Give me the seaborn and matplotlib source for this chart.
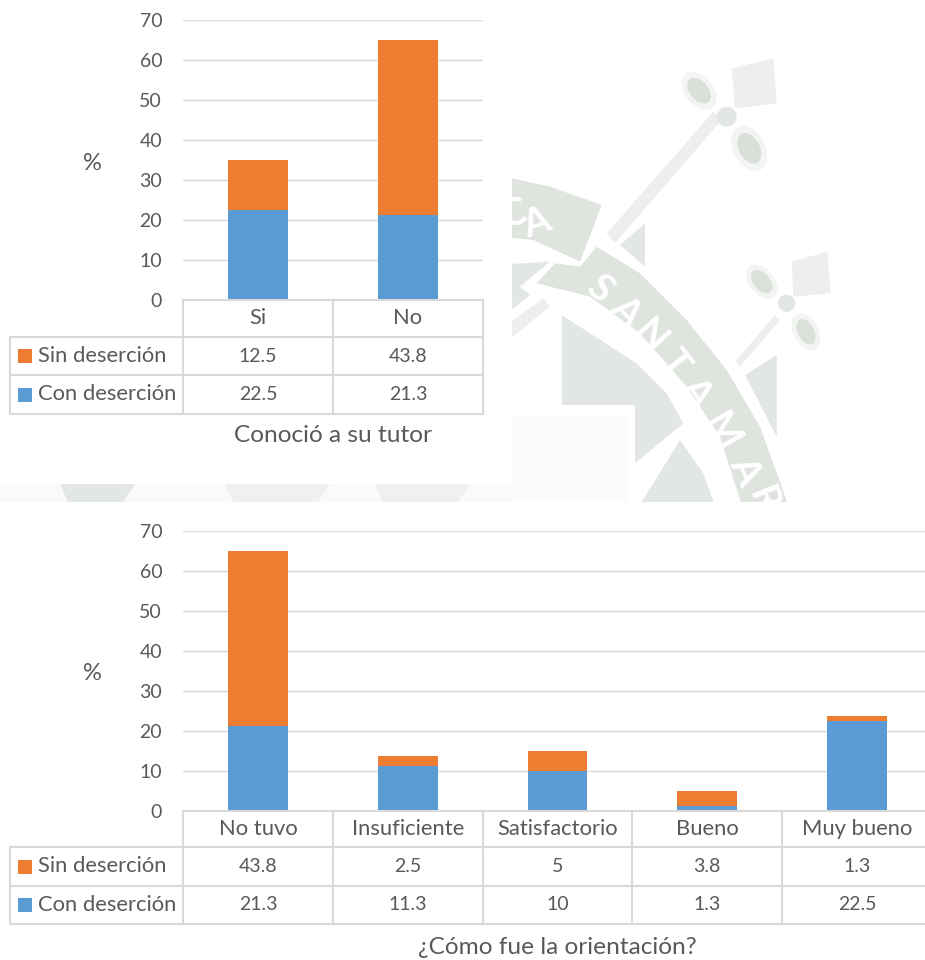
import matplotlib
matplotlib.use("Agg")
import matplotlib.pyplot as plt
import numpy as np
import seaborn as sns
from matplotlib.patches import Polygon, Rectangle, Ellipse, Circle

# ---------- data ----------
cats_top = ["Si", "No"]
sin_top = [12.5, 43.8]
con_top = [22.5, 21.3]
cats_bot = ["No tuvo", "Insuficiente", "Satisfactorio", "Bueno", "Muy bueno"]
sin_bot = [43.8, 2.5, 5, 3.8, 1.3]
con_bot = [21.3, 11.3, 10, 1.3, 22.5]
title_top = "Conoció a su tutor"
title_bot = "¿Cómo fue la orientación?"
series = ["Sin deserción", "Con deserción"]
yticks = [0, 10, 20, 30, 40, 50, 60, 70]

W, H = 925, 960
ORANGE, BLUE = "#ED7D31", "#5B9BD5"
TXT, GRID = "#595959", "#D9D9D9"
FS_LABEL, FS_NUM, FS_TITLE, FS_PCT = 15.8, 14.0, 17.6, 17.0

sns.set_theme(style="white")
plt.rcParams["font.family"] = ["Lato", "DejaVu Sans"]

fig = plt.figure(figsize=(W / 100, H / 100), dpi=100, facecolor="white")

# ---------- pixel-coordinate layers ----------
bg = fig.add_axes([0, 0, 1, 1], zorder=0)
bg.set_xlim(0, W); bg.set_ylim(H, 0); bg.axis("off")
fg = fig.add_axes([0, 0, 1, 1], zorder=5)
fg.set_xlim(0, W); fg.set_ylim(H, 0); fg.axis("off")
fg.patch.set_alpha(0)

# ---------- watermark ----------
def z(pts):
    return [(500 + x / 3, y / 3) for x, y in pts]

DARK, MID, LIGHT, PALE = "#DFE4DF", "#E3E7E3", "#ECEFEC", "#FAFBFA"
shapes = [
    ([(-100, 1245), (385, 1245), (385, 1530), (-100, 1530)], PALE),
    ([(-700, 535), (36, 535), (150, 560), (305, 615), (240, 785), (100, 720), (-700, 640)], DARK),
    ([(290, 740), (420, 820), (560, 960), (680, 1110), (780, 1280), (870, 1530), (730, 1530),
      (660, 1310), (560, 1160), (420, 1000), (270, 890), (110, 850), (165, 790), (240, 800)], DARK),
    ([(185, 945), (410, 1090), (500, 1180), (550, 1270), (405, 1390), (405, 1215), (185, 1215)], MID),
    ([(360, 735), (435, 670), (435, 800)], MID),
    ([(-100, 800), (150, 785), (60, 860), (90, 885), (-100, 1040)], MID),
    ([(-100, 1120), (150, 920), (130, 895), (-100, 1060)], LIGHT),
    ([(410, 1530), (540, 1320), (610, 1420), (650, 1530)], MID),
    ([(735, 1125), (830, 1065), (830, 1310)], MID),
    ([(320, 700), (640, 335), (665, 360), (345, 730)], LIGHT),
    ([(705, 1085), (825, 945), (840, 960), (720, 1100)], LIGHT),
    ([(695, 205), (820, 175), (830, 310), (705, 325)], LIGHT),
    ([(875, 785), (982, 755), (992, 880), (880, 890)], LIGHT),
]
for pts, col in shapes:
    bg.add_patch(Polygon(z(pts), closed=True, fc=col, ec="none"))
for (cx, cy, w, h, ang, c1, c2) in [
    (597, 272, 130, 85, 50, "#F3F5F3", "#DADFDA"),
    (748, 445, 145, 95, 62, "#F3F5F3", "#DADFDA"),
    (785, 845, 120, 75, 50, "#F3F5F3", "#DBE0DB"),
    (918, 995, 120, 75, 62, "#F3F5F3", "#DBE0DB"),
]:
    bg.add_patch(Ellipse((500 + cx / 3, cy / 3), w / 3, h / 3, angle=ang, fc=c1, ec="none"))
    bg.add_patch(Ellipse((500 + cx / 3, cy / 3), w / 4.4, h / 4.6, angle=ang, fc=c2, ec="none"))
for (cx, cy, r) in [(680, 350, 30), (860, 910, 26)]:
    bg.add_patch(Circle((500 + cx / 3, cy / 3), r / 3, fc=MID, ec="none"))

for ch, x, y, rot in [("S", 300, 865, -42), ("A", 378, 935, -45), ("N", 450, 1010, -48),
                      ("T", 525, 1090, -52), ("A", 590, 1175, -55), ("M", 665, 1295, -60),
                      ("A", 735, 1410, -65), ("R", 790, 1500, -68),
                      ("A", 110, 670, 18), ("C", 40, 640, 14)]:
    bg.text(500 + x / 3, y / 3, ch, color="white", fontsize=28, fontweight="bold",
            rotation=rot, ha="center", va="center", rotation_mode="anchor")

# fragments in the strip between the two charts
bg.add_patch(Rectangle((0, 484), 512, 18, fc="#F9FAF9", ec="none"))
for x0, x1, col in [(60, 135, "#E3E7E3"), (225, 330, "#EEF1EE"), (375, 470, "#EEF1EE")]:
    bg.add_patch(Polygon([(x0, 484), (x1, 484), (x1 - 12, 502), (x0 + 8, 502)], fc=col, ec="none"))

# white panels behind the charts
bg.add_patch(Rectangle((0, 0), 512, 484, fc="white", ec="none", zorder=3))
bg.add_patch(Rectangle((0, 502), W, H - 502, fc="white", ec="none", zorder=3))


def panel(cats, sin, con, title, left, right, base, title_y, rows):
    ax = fig.add_axes([left / W, 1 - base / H, (right - left) / W, 280 / H], zorder=2)
    ax.patch.set_alpha(0)
    sns.barplot(x=cats, y=con, color=BLUE, saturation=1, width=0.4, linewidth=0, ax=ax, zorder=3)
    sns.barplot(x=cats, y=sin, bottom=con, color=ORANGE, saturation=1, width=0.4, linewidth=0,
                ax=ax, zorder=3)
    ax.set_xlim(-0.5, len(cats) - 0.5)
    ax.set_ylim(0, 70)
    ax.set_yticks(yticks)
    ax.set_yticklabels([str(t) for t in yticks], fontsize=FS_NUM, color=TXT)
    ax.tick_params(axis="y", length=0, pad=15)
    ax.set_xticks([])
    ax.set_xlabel(""); ax.set_ylabel("")
    ax.yaxis.grid(True, color=GRID, lw=1.0, zorder=0)
    ax.set_axisbelow(True)
    sns.despine(ax=ax, left=True, bottom=True)

    fg.text(92, base - 137, "%", fontsize=FS_PCT, color=TXT, ha="center", va="center")

    # data table below the axis
    y0, y1, y2, y3 = rows
    n = len(cats)
    step = (right - left) / n
    lk = dict(color=GRID, lw=1.5, solid_capstyle="projecting")
    for i in range(n + 1):
        x = left + i * step
        fg.plot([x, x], [y0, y3], **lk)
    fg.plot([left, right], [y0, y0], **lk)
    fg.plot([10, right], [y1, y1], **lk)
    fg.plot([10, right], [y2, y2], **lk)
    fg.plot([10, right], [y3, y3], **lk)
    fg.plot([10, 10], [y1, y3], **lk)
    for i, c in enumerate(cats):
        xc = left + (i + 0.5) * step
        fg.text(xc, (y0 + y1) / 2, c, fontsize=FS_LABEL, color=TXT, ha="center", va="center")
        fg.text(xc, (y1 + y2) / 2, f"{sin[i]:g}", fontsize=FS_NUM, color=TXT, ha="center", va="center")
        fg.text(xc, (y2 + y3) / 2, f"{con[i]:g}", fontsize=FS_NUM, color=TXT, ha="center", va="center")
    for label, col, ya, yb in [(series[0], ORANGE, y1, y2), (series[1], BLUE, y2, y3)]:
        ym = (ya + yb) / 2
        fg.add_patch(Rectangle((18, ym - 7), 14, 14, fc=col, ec="none"))
        fg.text(38, ym, label, fontsize=FS_LABEL, color=TXT, ha="left", va="center")
    fg.text((left + right) / 2, title_y, title, fontsize=FS_TITLE, color=TXT, ha="center", va="center")
    return ax


panel(cats_top, sin_top, con_top, title_top, 183, 483, 300, 435, (300, 337, 375, 414))
panel(cats_bot, sin_bot, con_bot, title_bot, 183, 932, 811, 947, (811, 847, 886, 924))

fig.savefig("out.png", dpi=100)
